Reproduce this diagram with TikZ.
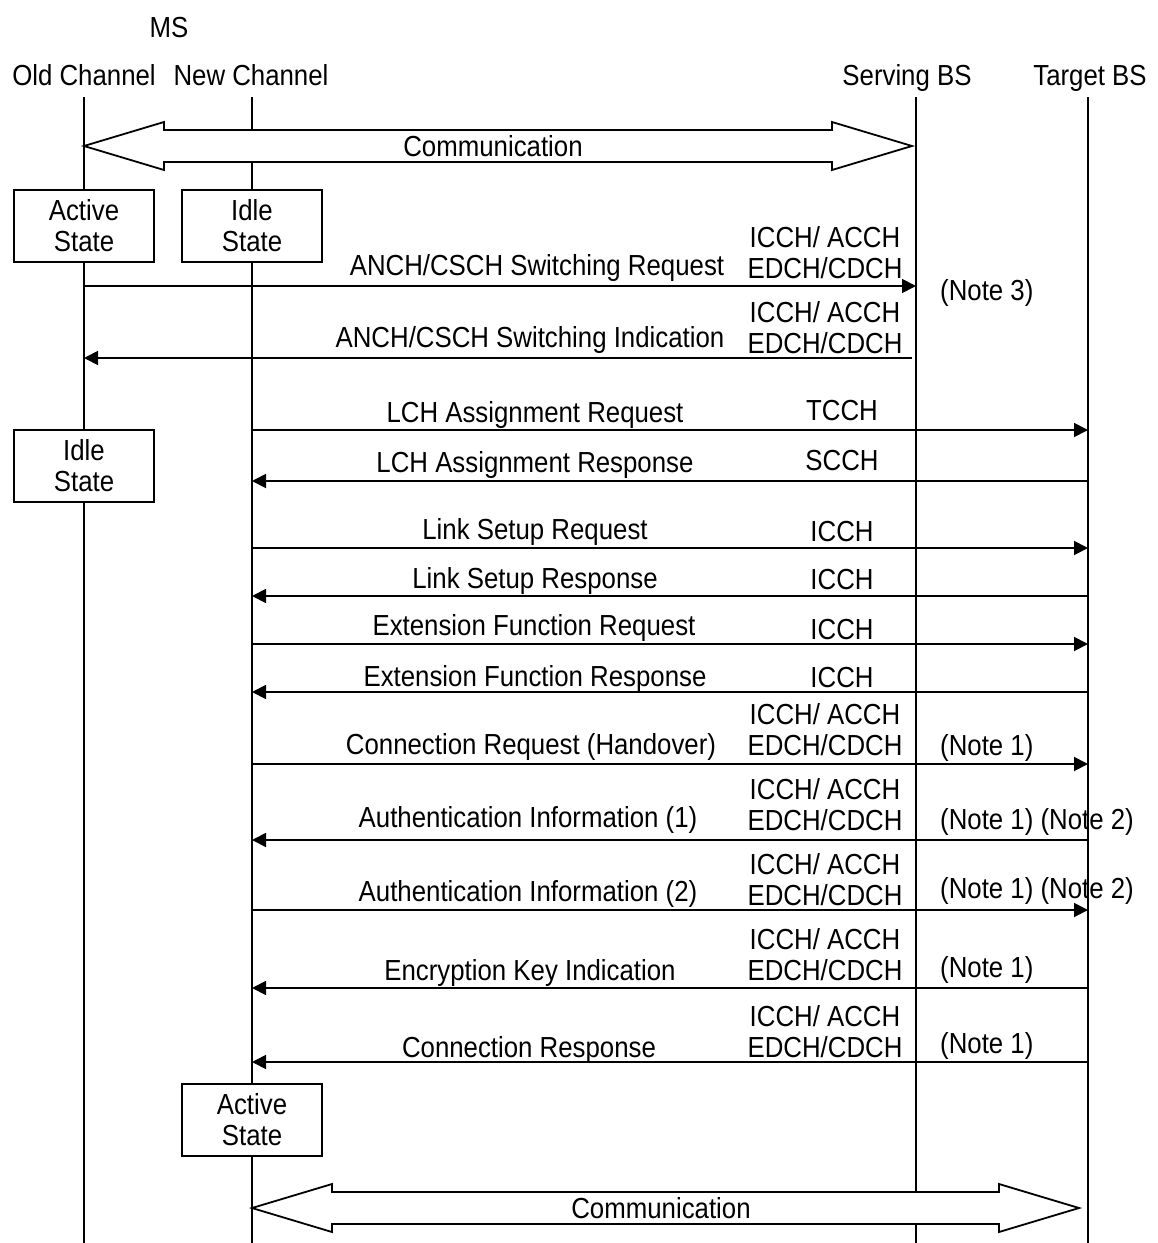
\documentclass[tikz,border=0pt]{standalone}
\usepackage{fontspec}
\setmainfont{Liberation Sans}[FakeStretch=0.89]
\usepackage{tikz}
\usetikzlibrary{arrows.meta}

\tikzset{
  life/.style={line width=1.8pt},
  msg/.style={line width=1.8pt,-{Triangle[length=14pt,width=14pt]}},
  state/.style={draw,line width=1.8pt,fill=white,minimum width=140pt,minimum height=72pt,align=center,inner sep=0pt},
  lab/.style={anchor=base,inner sep=0pt},
  note/.style={anchor=base west,inner sep=0pt},
  fat/.style={line width=1.8pt,fill=white,line join=miter}
}
\newcommand{\chtext}{\begin{tabular}[b]{@{}c@{}}ICCH/ ACCH\\EDCH/CDCH\end{tabular}}

\begin{document}
\begin{tikzpicture}[x=1pt,y=-1pt,font=\fontsize{29pt}{31pt}\selectfont]
  \useasboundingbox (0,0) rectangle (1158,1243);
  \node[lab] (ms) at (169,37) {MS};
  \node[lab] (oldch) at (84,85) {Old Channel};
  \node[lab] (newch) at (251,85) {New Channel};
  \node[lab] (serv) at (907,85) {Serving BS};
  \node[lab] (targ) at (1090,85) {Target BS};

  \coordinate (oldtop) at (84,97);   \coordinate (oldbot) at (84,1243);
  \coordinate (newtop) at (252,97);  \coordinate (newbot) at (252,1243);
  \coordinate (servtop) at (916,97); \coordinate (servbot) at (916,1243);
  \coordinate (targtop) at (1088,97);\coordinate (targbot) at (1088,1243);
  \draw[life] (oldtop) -- (oldbot);
  \draw[life] (newtop) -- (newbot);
  \draw[life] (servtop) -- (servbot);
  \draw[life] (targtop) -- (targbot);

  \foreach \r/\y in {1/286,2/358,3/430,4/481,5/548,6/596,7/644,8/692,9/764,10/840,11/910,12/988,13/1062}{
    \coordinate (o\r) at (84,\y);
    \coordinate (n\r) at (252,\y);
    \coordinate (s\r) at (916,\y);
    \coordinate (t\r) at (1088,\y);
  }

  \coordinate (comm1l) at (84,146);
  \coordinate (comm1r) at (912,146);
  \draw[fat] (comm1l) -- ++(80,-24) -- ++(0,8) -- ([shift={(-80,-16)}]comm1r) -- ++(0,-8) -- (comm1r)
    -- ++(-80,24) -- ++(0,-8) -- ([shift={(80,16)}]comm1l) -- ++(0,8) -- cycle;
  \node[inner sep=0pt] (comm1) at (493,146) {Communication};

  \node[state] (active1) at (84,226) {Active\\State};
  \node[state] (idle1) at (252,226) {Idle\\State};
  \node[state] (idle2) at (84,466) {Idle\\State};
  \node[state] (active2) at (252,1120) {Active\\State};

  \draw[msg] (o1) -- (s1);
  \node[lab] (m1) at (537,275) {ANCH/CSCH Switching Request};
  \node[lab] (c1) at (825,278) {\chtext};
  \node[note] (note3) at (940,300) {(Note 3)};

  \draw[msg,shorten <=4pt] (s2) -- (o2);
  \node[lab] (m2) at (530,347) {ANCH/CSCH Switching Indication};
  \node[lab] (c2) at (825,353) {\chtext};

  \draw[msg] (n3) -- (t3);
  \node[lab] (m3) at (535,422) {LCH Assignment Request};
  \node[lab] (c3) at (842,420) {TCCH};

  \draw[msg] (t4) -- (n4);
  \node[lab] (m4) at (535,472) {LCH Assignment Response};
  \node[lab] (c4) at (842,470) {SCCH};

  \draw[msg] (n5) -- (t5);
  \node[lab] (m5) at (535,539) {Link Setup Request};
  \node[lab] (c5) at (842,541) {ICCH};

  \draw[msg] (t6) -- (n6);
  \node[lab] (m6) at (535,588) {Link Setup Response};
  \node[lab] (c6) at (842,589) {ICCH};

  \draw[msg] (n7) -- (t7);
  \node[lab] (m7) at (534,635) {Extension Function Request};
  \node[lab] (c7) at (842,639) {ICCH};

  \draw[msg] (t8) -- (n8);
  \node[lab] (m8) at (535,686) {Extension Function Response};
  \node[lab] (c8) at (842,687) {ICCH};

  \draw[msg] (n9) -- (t9);
  \node[lab] (m9) at (531,754) {Connection Request (Handover)};
  \node[lab] (c9) at (825,755) {\chtext};
  \node[note] (note9) at (940,755) {(Note 1)};

  \draw[msg] (t10) -- (n10);
  \node[lab] (m10) at (528,827) {Authentication Information (1)};
  \node[lab] (c10) at (825,830) {\chtext};
  \node[note] (note10) at (940,829) {(Note 1) (Note 2)};

  \draw[msg] (n11) -- (t11);
  \node[lab] (m11) at (528,901) {Authentication Information (2)};
  \node[lab] (c11) at (825,905) {\chtext};
  \node[note] (note11) at (940,898) {(Note 1) (Note 2)};

  \draw[msg] (t12) -- (n12);
  \node[lab] (m12) at (530,980) {Encryption Key Indication};
  \node[lab] (c12) at (825,980) {\chtext};
  \node[note] (note12) at (940,977) {(Note 1)};

  \draw[msg] (t13) -- (n13);
  \node[lab] (m13) at (529,1057) {Connection Response};
  \node[lab] (c13) at (825,1057) {\chtext};
  \node[note] (note13) at (940,1053) {(Note 1)};

  \coordinate (comm2l) at (252,1208);
  \coordinate (comm2r) at (1079,1208);
  \draw[fat] (comm2l) -- ++(80,-24) -- ++(0,8) -- ([shift={(-80,-16)}]comm2r) -- ++(0,-8) -- (comm2r)
    -- ++(-80,24) -- ++(0,-8) -- ([shift={(80,16)}]comm2l) -- ++(0,8) -- cycle;
  \node[inner sep=0pt] (comm2) at (661,1208) {Communication};
\end{tikzpicture}
\end{document}
